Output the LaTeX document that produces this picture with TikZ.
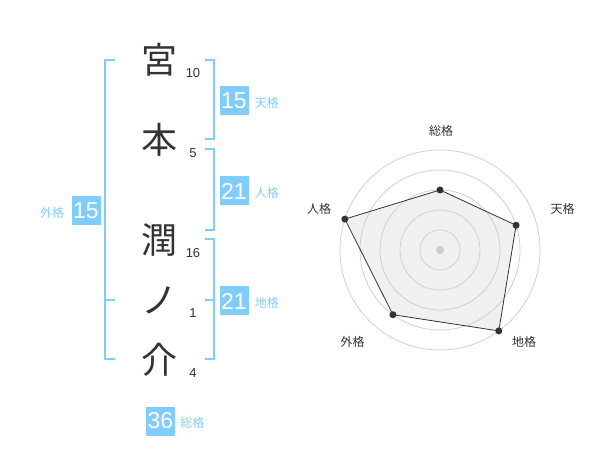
\documentclass[tikz,border=0pt]{standalone}
\usepackage{fontspec}
\setmainfont{Liberation Sans}
\newfontfamily\jpfont{Noto Sans CJK JP}
\usetikzlibrary{positioning}
\definecolor{kakublue}{RGB}{128,204,250}
\definecolor{kakutext}{RGB}{135,205,245}
\definecolor{inkgray}{RGB}{51,51,51}

\begin{document}
\begin{tikzpicture}[x=1pt,y=-1pt,
  kanji/.style={font=\jpfont\fontsize{36}{36}\selectfont,text=inkgray,inner sep=0pt},
  strokes/.style={font=\fontsize{13}{13}\selectfont,text=inkgray,inner sep=0pt},
  valbox/.style={fill=kakublue,text=white,font=\fontsize{23}{23}\selectfont,minimum size=29pt,inner sep=0pt},
  kaku/.style={font=\jpfont\fontsize{12}{12}\selectfont,text=kakutext,inner sep=0pt},
  bracket/.style={draw=kakublue,line width=2pt},
  ring/.style={draw=gray!40,line width=0.7pt},
  radarlabel/.style={font=\jpfont\fontsize{12}{12}\selectfont,text=inkgray,inner sep=0pt}]
\useasboundingbox[fill=white] (0,0) rectangle (600,470);
% name and stroke counts
\node[kanji] (k1) at (159,60) {宮};
\node[kanji] (k2) at (159,140) {本};
\node[kanji] (k3) at (159,240) {潤};
\node[kanji] (k4) at (159,300) {ノ};
\node[kanji] (k5) at (159,360) {介};
\foreach \y/\n [count=\i] in {73/10,153/5,253/16,313/1,373/4}
  \node[strokes] (n\i) at (193,\y) {\n};
% brackets
\draw[bracket] (115,60) -- (105,60) -- (105,359) -- (115,359);
\draw[bracket] (105,300) -- (115,300);
\draw[bracket] (205,60) -- (214,60) -- (214,139) -- (205,139);
\draw[bracket] (205,149) -- (214,149) -- (214,230) -- (205,230);
\draw[bracket] (205,239) -- (214,239) -- (214,359) -- (205,359);
\draw[bracket] (205,300) -- (214,300);
% values
\node[valbox] (ten) at (234,101) {15};
\node[kaku,right=6pt of ten,yshift=-2pt] (ten-l) {天格};
\node[valbox] (jin) at (234,191) {21};
\node[kaku,right=6pt of jin,yshift=-2pt] (jin-l) {人格};
\node[valbox] (chi) at (234,301) {21};
\node[kaku,right=6pt of chi,yshift=-2pt] (chi-l) {地格};
\node[valbox] (gai) at (86,210.5) {15};
\node[kaku,left=7pt of gai,yshift=-2pt] (gai-l) {外格};
\node[valbox] (so) at (160.5,421) {36};
\node[kaku,right=5pt of so,yshift=-2pt] (so-l) {総格};
% radar chart
\begin{scope}[shift={(440,250)},yscale=-1]
\foreach \ang/\val/\name in {90/60/so,18/80/ten,-54/100/chi,-126/80/gai,162/100/jin}
  \coordinate (p-\name) at (\ang:\val);
\fill[gray!12] (p-so) -- (p-ten) -- (p-chi) -- (p-gai) -- (p-jin) -- cycle;
\foreach \r in {20,40,...,100}
  \draw[ring] (0,0) circle [radius=\r];
\draw[inkgray,line width=0.8pt] (p-so) -- (p-ten) -- (p-chi) -- (p-gai) -- (p-jin) -- cycle;
\foreach \name in {so,ten,chi,gai,jin}
  \fill[inkgray] (p-\name) circle [radius=3.5];
\fill[gray!40] (0,0) circle [radius=4];
\node[radarlabel] (r-so) at (1,119) {総格};
\node[radarlabel] (r-ten) at (122.5,41) {天格};
\node[radarlabel] (r-chi) at (84,-92) {地格};
\node[radarlabel] (r-gai) at (-87.5,-92) {外格};
\node[radarlabel] (r-jin) at (-121,41) {人格};
\end{scope}
\end{tikzpicture}
\end{document}
